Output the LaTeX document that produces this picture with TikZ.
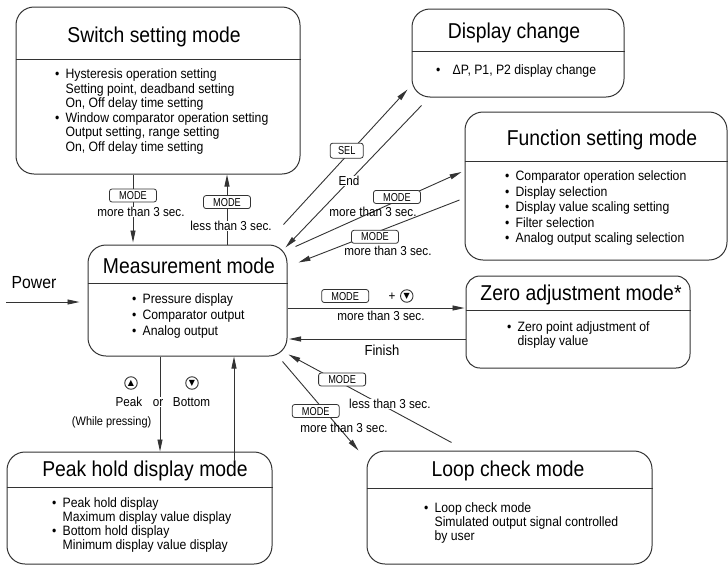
\documentclass[tikz,border=0pt]{standalone}
\usepackage{fontspec}
\setmainfont{Liberation Sans}[FakeStretch=0.9]
\newfontfamily\keyfont{Liberation Sans}[FakeStretch=0.8]
\newfontfamily\symfont{DejaVu Sans}
\usetikzlibrary{arrows.meta}
\newcommand{\bl}{\textbullet\hspace{0.45em}}
\newcommand{\ind}{\hphantom{\textbullet\hspace{0.45em}}}

\begin{document}
\begin{tikzpicture}[x=1pt, y=-1pt,
  >={Triangle[length=12pt, width=5pt]},
  modebox/.style={rectangle, draw=black!80, line width=1pt, rounded corners=18pt, inner sep=0pt},
  divider/.style={draw=black!80, line width=1pt},
  title/.style={inner sep=0pt, font=\fontsize{21.5}{24}\selectfont, text height=15.4pt, text depth=0pt},
  body/.style={inner sep=0pt, anchor=west, align=left, font=\fontsize{13.6}{14.6}\selectfont},
  lbl/.style={inner sep=0.5pt, font=\fontsize{13}{15}\selectfont, text height=9.3pt, text depth=0pt},
  key/.style={draw=black!80, line width=0.8pt, rounded corners=2.5pt, fill=white, inner sep=0pt,
    minimum width=47pt, minimum height=13pt, font=\keyfont\fontsize{11.5}{13}\selectfont, text height=8.2pt, text depth=0pt},
  btn/.style={circle, draw=black!80, line width=0.9pt, minimum size=12.5pt, inner sep=0pt, font=\symfont\fontsize{8}{8}\selectfont},
  flow/.style={->, draw=black!80, line width=0.9pt}]
  \useasboundingbox (0,0) rectangle (728,565);

  % mode boxes
  \node[modebox, minimum width=284pt, minimum height=167pt] (sw) at (158,90.5) {};
  \draw[divider] (sw.west |- 0,59) -- (sw.east |- 0,59);
  \node[title] (swtitle) at (154,35) {Switch setting mode};
  \node[body] (swbody) at (55,111.5) {\bl Hysteresis operation setting\\ \ind Setting point, deadband setting\\
    \ind On, Off delay time setting\\ \bl Window comparator operation setting\\
    \ind Output setting, range setting\\ \ind On, Off delay time setting};

  \node[modebox, minimum width=212pt, minimum height=88pt] (disp) at (518,53) {};
  \draw[divider] (disp.west |- 0,51) -- (disp.east |- 0,51);
  \node[title] (disptitle) at (514,31) {Display change};
  \node[body] (dispbody) at (436,71) {\textbullet\hspace{0.9em}ΔP, P1, P2 display change};

  \node[modebox, minimum width=262pt, minimum height=148pt] (func) at (596,186) {};
  \draw[divider] (func.west |- 0,161) -- (func.east |- 0,161);
  \node[title] (functitle) at (602,138) {Function setting mode};
  \node[body, font=\fontsize{13.6}{15.5}\selectfont] (funcbody) at (505,208) {\bl Comparator operation selection\\
    \bl Display selection\\ \bl Display value scaling setting\\ \bl Filter selection\\ \bl Analog output scaling selection};

  \node[modebox, minimum width=199pt, minimum height=111pt] (meas) at (187.5,300.5) {};
  \draw[divider] (meas.west |- 0,283) -- (meas.east |- 0,283);
  \node[title] (meastitle) at (189,266) {Measurement mode};
  \node[body, font=\fontsize{13.6}{16}\selectfont] (measbody) at (132,316) {\bl Pressure display\\
    \bl Comparator output\\ \bl Analog output};

  \node[modebox, rounded corners=14pt, minimum width=224pt, minimum height=92pt] (zero) at (578,322) {};
  \draw[divider] (zero.west |- 0,310) -- (zero.east |- 0,310);
  \node[title] (zerotitle) at (581,293) {Zero adjustment mode*};
  \node[body, font=\fontsize{13.6}{14}\selectfont] (zerobody) at (507,335) {\bl Zero point adjustment of\\ \ind display value};

  \node[modebox, minimum width=265pt, minimum height=112pt] (peak) at (139.5,508) {};
  \draw[divider] (peak.west |- 0,487) -- (peak.east |- 0,487);
  \node[title] (peaktitle) at (145,469) {Peak hold display mode};
  \node[body, font=\fontsize{13.6}{14}\selectfont] (peakbody) at (52,525) {\bl Peak hold display\\
    \ind Maximum display value display\\ \bl Bottom hold display\\ \ind Minimum display value display};

  \node[modebox, minimum width=285pt, minimum height=113pt] (loop) at (509.5,507.5) {};
  \draw[divider] (loop.west |- 0,488) -- (loop.east |- 0,488);
  \node[title] (looptitle) at (508,469) {Loop check mode};
  \node[body, font=\fontsize{13.6}{14}\selectfont] (loopbody) at (424,523) {\bl Loop check mode\\
    \ind Simulated output signal controlled\\ \ind by user};

  % power in
  \node[inner sep=0pt, font=\fontsize{17.5}{20}\selectfont, text height=12.5pt, text depth=0pt] (power) at (34,282) {Power};
  \coordinate (pin) at (6,302);
  \draw[flow, shorten >=8pt] (pin) -- (meas.west |- pin);

  % switch setting
  \draw[flow, shorten >=2pt] (sw.south -| 133,0) -- node[key, pos=0.3] (k1) {MODE}
    node[lbl, fill=white, pos=0.535, xshift=8pt] {more than 3 sec.} (meas.north -| 133,0);
  \draw[flow] (meas.north -| 227,0) -- node[key, pos=0.606] (k2) {MODE}
    node[lbl, fill=white, pos=0.268, xshift=4pt] {less than 3 sec.} (sw.south -| 227,0);

  % display change
  \draw[flow] ([shift={(-4,-20)}]meas.north east) -- node[key, minimum width=33pt, minimum height=15pt, pos=0.51, yshift=5pt] (sel) {SEL}
    ([shift={(-4,-8)}]disp.south west);
  \draw[flow] ([shift={(10,8)}]disp.south west) -- node[lbl, fill=white, pos=0.533] {End}
    ([shift={(-2,3)}]meas.north east);

  % function setting
  \draw[flow] ([shift={(8,2)}]meas.north east) -- node[key, pos=0.611, yshift=4pt] (k3) {MODE}
    node[lbl, pos=0.467] {more than 3 sec.} ([shift={(-3,-14)}]func.west);
  \draw[flow] ([shift={(-5,14)}]func.west) -- node[key, pos=0.525, yshift=-4pt] (k4) {MODE}
    node[lbl, pos=0.444, yshift=-23pt] {more than 3 sec.} ([shift={(11,18)}]meas.north east);

  % zero adjustment
  \draw[flow, shorten >=1pt] (meas.east |- 0,308) -- node[key, pos=0.324, yshift=12pt] (k5) {MODE}
    node[lbl, pos=0.587, yshift=12pt] {+} node[btn, pos=0.67, yshift=12pt] (dn1) {▼}
    node[lbl, pos=0.525, yshift=-8pt] {more than 3 sec.} (zero.west |- 0,308);
  \draw[flow, shorten >=1.5pt] (zero.west |- 0,339) -- node[inner sep=0pt, font=\fontsize{14.5}{16}\selectfont,
    text height=10.4pt, text depth=0pt, pos=0.469, yshift=-11pt] {Finish} (meas.east |- 0,339);

  % peak hold
  \draw[flow] (meas.south -| 160,0) -- node[lbl, fill=white, pos=0.479, xshift=-2pt] (or) {or} (peak.north -| 160,0);
  \node[btn] (up) at (131,383) {▲};
  \node[btn] (dn2) at (192,383) {▼};
  \node[lbl] (pk) at (129,402) {Peak};
  \node[lbl] (bt) at (191.5,402) {Bottom};
  \node[lbl, anchor=east, font=\fontsize{12.2}{14}\selectfont] (wp) at (152,421) {(While pressing)};
  \draw[flow, shorten <=-9pt] (peak.north -| 234,0) -- (meas.south -| 234,0);

  % loop check
  \draw[flow] ([shift={(-5,5)}]meas.south east) -- node[key, pos=0.556, xshift=-9pt] (k6) {MODE}
    node[lbl, pos=0.744, xshift=5pt] {more than 3 sec.} ([shift={(-8,0)}]loop.north west);
  \draw[flow] ([shift={(85,-8)}]loop.north west) -- node[key, pos=0.671, yshift=4pt] (k7) {MODE}
    node[lbl, fill=white, pos=0.378, yshift=5pt] {less than 3 sec.} ([shift={(1,-2)}]meas.south east);
\end{tikzpicture}
\end{document}
